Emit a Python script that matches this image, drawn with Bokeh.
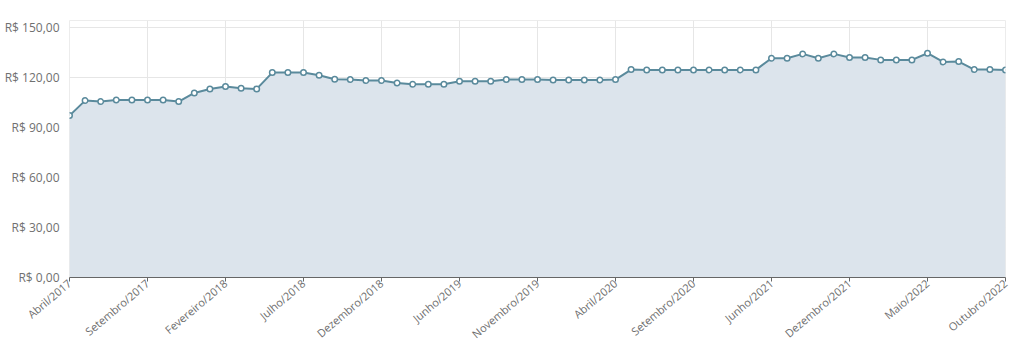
from bokeh.plotting import figure
from bokeh.models import FixedTicker, Range1d
from bokeh.embed import file_html
from bokeh.resources import INLINE

# --- data ---
values = [97.0, 106.0, 105.4, 106.4, 106.4, 106.4, 106.4, 105.4, 110.6, 113.0,
          114.4, 113.4, 113.0, 122.8, 122.8, 122.8, 121.2, 118.8, 118.6, 118.0,
          118.0, 116.6, 115.8, 115.8, 115.8, 117.6, 117.6, 117.6, 118.6, 118.6,
          118.6, 118.4, 118.4, 118.4, 118.4, 118.6, 124.6, 124.4, 124.4, 124.4,
          124.4, 124.4, 124.4, 124.4, 124.4, 131.4, 131.4, 134.0, 131.4, 134.0,
          131.8, 131.8, 130.4, 130.4, 130.4, 134.4, 129.2, 129.4, 124.6, 124.6,
          124.4]
tick_labels = ["Abril/2017", "Setembro/2017", "Fevereiro/2018", "Julho/2018",
               "Dezembro/2018", "Junho/2019", "Novembro/2019", "Abril/2020",
               "Setembro/2020", "Junho/2021", "Dezembro/2021", "Maio/2022",
               "Outubro/2022"]
y_ticks = [0, 30, 60, 90, 120, 150]
y_labels = ["R$ 0,00", "R$ 30,00", "R$ 60,00", "R$ 90,00", "R$ 120,00", "R$ 150,00"]

x = list(range(len(values)))
x_ticks = list(range(0, len(values), 5))

LINE = "#5a8a9c"
FONT = "Open Sans"

p = figure(frame_width=936, frame_height=257, output_backend="svg", toolbar_location=None,
           x_range=Range1d(0, len(values) - 1), y_range=Range1d(0, 154),
           min_border_left=69, min_border_right=19, min_border_top=20,
           min_border_bottom=0)
p.background_fill_color = "white"
p.border_fill_color = "white"
p.outline_line_color = "#ececec"

p.varea(x=x, y1=[0] * len(values), y2=values, fill_color="#dce4ec", fill_alpha=1.0)
p.line(x, values, line_color=LINE, line_width=2)
p.scatter(x, values, size=5.5, fill_color="white", line_color=LINE, line_width=1.5)

p.xaxis.ticker = FixedTicker(ticks=x_ticks)
p.xaxis.major_label_overrides = {t: lab for t, lab in zip(x_ticks, tick_labels)}
p.xaxis.major_label_orientation = 0.7
p.xaxis.axis_line_color = "#666666"
p.xaxis.axis_line_width = 1
p.xaxis.major_tick_line_color = "#666666"
p.xaxis.major_tick_in = 0
p.xaxis.major_tick_out = 4
p.xaxis.minor_tick_line_color = None
p.xaxis.major_label_text_font = FONT
p.xaxis.major_label_text_font_size = "11px"
p.xaxis.major_label_text_color = "#707070"
p.xaxis.major_label_standoff = 0

p.yaxis.ticker = FixedTicker(ticks=y_ticks)
p.yaxis.major_label_overrides = {t: lab for t, lab in zip(y_ticks, y_labels)}
p.yaxis.axis_line_color = None
p.yaxis.major_tick_line_color = None
p.yaxis.minor_tick_line_color = None
p.yaxis.major_label_text_font = FONT
p.yaxis.major_label_text_font_size = "12px"
p.yaxis.major_label_text_color = "#707070"
p.yaxis.major_label_standoff = 4

p.xgrid.ticker = FixedTicker(ticks=x_ticks)
p.xgrid.grid_line_color = "#e6e6e6"
p.ygrid.grid_line_color = "#e6e6e6"

open("out.html", "w").write(file_html(p, INLINE))
